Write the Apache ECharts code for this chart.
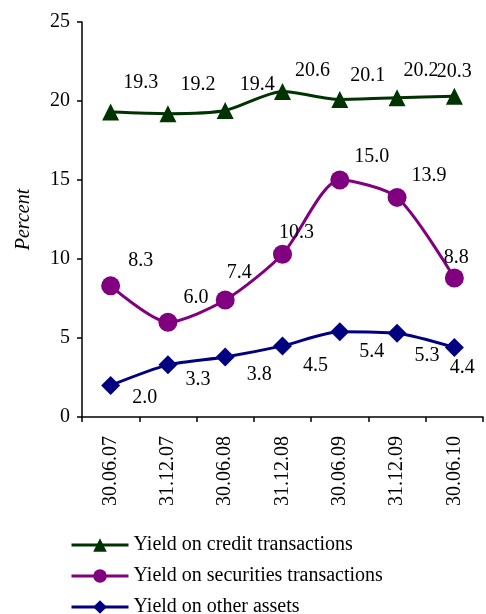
<!DOCTYPE html>
<html>
<head>
<meta charset="utf-8">
<script src="https://cdn.jsdelivr.net/npm/echarts@6/dist/echarts.min.js"></script>
<style>
  html, body { margin: 0; padding: 0; background: #fff; }
  #chart { width: 486px; height: 614px; }
</style>
</head>
<body>
<div id="chart"></div>
<script>
// 数据
const dates = ["30.06.07", "31.12.07", "30.06.08", "31.12.08", "30.06.09", "31.12.09", "30.06.10"];
const creditYield = [19.3, 19.2, 19.4, 20.6, 20.1, 20.2, 20.3];
const securitiesYield = [8.3, 6.0, 7.4, 10.3, 15.0, 13.9, 8.8];
const otherYield = [2.0, 3.3, 3.8, 4.5, 5.4, 5.3, 4.4];

// 标签偏移（样式）
const creditOffsets = [[30, -29], [30, -29], [32, -26], [30, -21], [28, -24], [24, -27], [0, -25]];
const securitiesOffsets = [[30, -25], [28, -24], [14, -27], [14, -22], [32, -23], [32, -22], [2, -20]];
const otherOffsets = [[34, 12], [30, 15], [34, 18], [33, 20], [32, 20], [30, 22], [8, 20]];

const font = "Liberation Serif";

function makeSeries(name, values, offsets, color, symbol, size) {
  return {
    name: name,
    type: "line",
    smooth: 0.25,
    data: values.map((v, i) => ({
      value: v,
      label: { offset: offsets[i] },
    })),
    symbol: symbol,
    symbolSize: size,
    lineStyle: { color: color, width: 3 },
    itemStyle: { color: color },
    label: {
      show: true,
      position: "inside",
      color: "#000",
      fontFamily: font,
      fontSize: 20,
      formatter: (p) => p.value.toFixed(1),
    },
    emphasis: { disabled: true },
    animation: false,
  };
}

const chart = echarts.init(document.getElementById("chart"));
chart.setOption({
  animation: false,
  grid: { left: 82, right: 3, top: 22, bottom: 197, containLabel: false },
  legend: {
    orient: "vertical",
    left: 65,
    top: 530,
    height: 100,
    itemWidth: 57,
    itemHeight: 17,
    itemGap: 11,
    lineStyle: { width: 3 },
    textStyle: { fontFamily: font, fontSize: 20, color: "#000" },
    data: ["Yield on credit transactions", "Yield on securities transactions", "Yield on other assets"],
  },
  xAxis: {
    type: "category",
    data: dates,
    boundaryGap: true,
    axisLine: { lineStyle: { color: "#000", width: 1.5 } },
    axisTick: { show: true, length: 5, lineStyle: { color: "#000", width: 1.5 } },
    axisLabel: { rotate: 90, margin: 19, color: "#000", fontFamily: font, fontSize: 20 },
  },
  yAxis: {
    type: "value",
    min: 0,
    max: 25,
    interval: 5,
    name: "Percent",
    nameLocation: "middle",
    nameGap: 48,
    nameRotate: 90,
    nameTextStyle: { fontFamily: font, fontSize: 20, fontStyle: "italic", color: "#000" },
    axisLine: { show: true, lineStyle: { color: "#000", width: 1.5 } },
    axisTick: { show: true, length: 5, lineStyle: { color: "#000", width: 1.5 } },
    axisLabel: { margin: 12, color: "#000", fontFamily: font, fontSize: 20 },
    splitLine: { show: false },
  },
  series: [
    makeSeries("Yield on credit transactions", creditYield, creditOffsets, "#003300", "triangle", 17),
    makeSeries("Yield on securities transactions", securitiesYield, securitiesOffsets, "#800080", "circle", 19),
    makeSeries("Yield on other assets", otherYield, otherOffsets, "#000080", "diamond", 19),
  ],
});
</script>
</body>
</html>
